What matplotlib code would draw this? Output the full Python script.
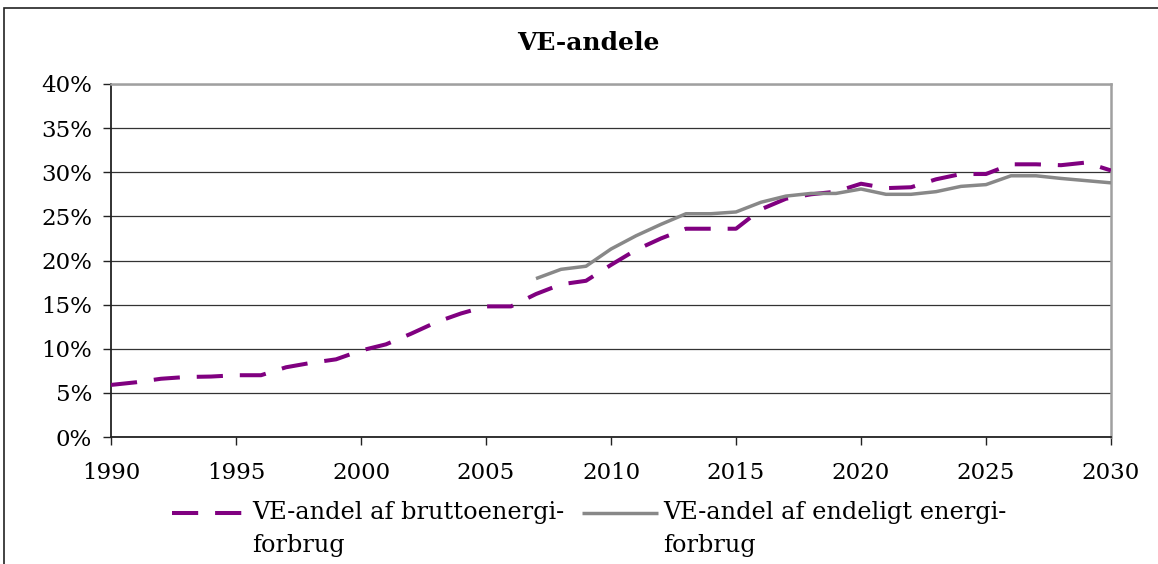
import numpy as np
import matplotlib.pyplot as plt
from matplotlib.lines import Line2D
from matplotlib.patches import Rectangle
from matplotlib.ticker import FuncFormatter, MultipleLocator

plt.rcParams['font.family'] = ['DejaVu Serif']

title = 'VE-andele'
years_brutto = list(range(1990, 2031))
ve_brutto = [5.9, 6.2, 6.6, 6.8, 6.85, 7.0, 7.0, 7.9, 8.4, 8.8,
             9.8, 10.5, 11.7, 13.0, 14.0, 14.8, 14.8, 16.2, 17.3, 17.7,
             19.5, 21.2, 22.5, 23.6, 23.6, 23.6, 25.8, 27.0, 27.5, 27.8,
             28.7, 28.2, 28.3, 29.2, 29.8, 29.8, 30.9, 30.9, 30.8, 31.1,
             30.2]
years_endeligt = list(range(2007, 2031))
ve_endeligt = [17.95, 19.0, 19.35, 21.3, 22.8, 24.1, 25.3, 25.3, 25.5, 26.6,
               27.3, 27.6, 27.6, 28.1, 27.5, 27.5, 27.8, 28.4, 28.6, 29.6,
               29.6, 29.3, 29.05, 28.8]
labels = ['VE-andel af bruttoenergi-\nforbrug',
          'VE-andel af endeligt energi-\nforbrug']

W, H = 1158, 564
fig = plt.figure(figsize=(W / 100, H / 100), dpi=100)

def fx(px):
    return px / W

def fy(py):
    return 1 - py / H

# outer chart border (cut off at right and bottom)
fig.patches.append(Rectangle((fx(4), -0.1), 1.2, fy(8) + 0.1,
                             transform=fig.transFigure, fill=False,
                             edgecolor='#222222', linewidth=1.2))

ax = fig.add_axes([fx(111), fy(437), fx(1000), fy(84) - fy(437)])

purple = '#800080'
grey = '#888888'

l1, = ax.plot(years_brutto, ve_brutto, color=purple, linewidth=2.9,
              dashes=(6.5, 4.2), dash_capstyle='butt', zorder=3)
l2, = ax.plot(years_endeligt, ve_endeligt, color=grey, linewidth=2.5,
              solid_capstyle='butt', zorder=3)

ax.set_xlim(1990, 2030)
ax.set_ylim(0, 40)
ax.xaxis.set_major_locator(MultipleLocator(5))
ax.yaxis.set_major_locator(MultipleLocator(5))
ax.yaxis.set_major_formatter(FuncFormatter(lambda v, p: '%d%%' % v))
ax.yaxis.grid(True, color='#333333', linewidth=0.9)
ax.set_axisbelow(True)

for s in ['left', 'bottom']:
    ax.spines[s].set_color('#222222')
    ax.spines[s].set_linewidth(1.3)
for s in ['top', 'right']:
    ax.spines[s].set_color('#a0a0a0')
    ax.spines[s].set_linewidth(1.8)

ax.tick_params(axis='y', direction='out', length=6, width=1, color='#222222',
               labelsize=16.5, pad=7.5)
ax.tick_params(axis='x', direction='out', length=6, width=1, color='#222222',
               labelsize=16.5, pad=12)

fig.text(fx(588), fy(43), title, ha='center', va='center',
         fontsize=18, fontweight='bold')

# legend below the plot
handles = [(l1, 172, 243, 252), (l2, 582, 658, 663)]
for (line, x0, x1, tx), lab in zip(handles, labels):
    h = Line2D([fx(x0), fx(x1)], [fy(513), fy(513)], transform=fig.transFigure,
               color=line.get_color(), linewidth=line.get_linewidth(),
               solid_capstyle='butt', dash_capstyle='butt')
    if line is l1:
        h.set_dashes((6.5, 4.2))
    fig.lines.append(h)
    for i, part in enumerate(lab.split('\n')):
        fig.text(fx(tx), fy(519 + 33 * i), part, ha='left', va='baseline',
                 fontsize=17.3)

fig.savefig('out.png', dpi=100)
